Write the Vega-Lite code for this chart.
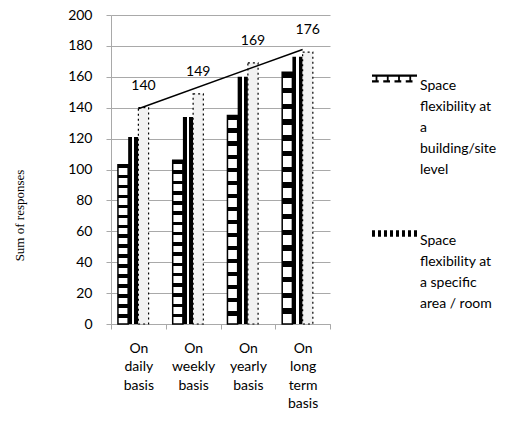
{
  "$schema": "https://vega.github.io/schema/vega-lite/v6.json",
  "width": 219,
  "height": 309,
  "autosize": {"type": "none"},
  "padding": {"left": 111, "top": 15, "right": 198, "bottom": 103},
  "background": "white",
  "config": {
    "view": {"stroke": null},
    "font": "Lato",
    "style": {"guide-label": {"lineHeight": 21}},
    "axis": {"labelFont": "Lato", "labelFontSize": 14, "labelColor": "#000", "domainColor": "darkgray", "tickColor": "darkgray"}
  },
  "datasets": {
    "bars": [
      {"category": "On daily basis", "series": "Space flexibility at a building/site level", "value": 103},
      {"category": "On daily basis", "series": "Space flexibility at a specific area / room", "value": 121},
      {"category": "On daily basis", "series": "Overall space flexibility", "value": 140},
      {"category": "On weekly basis", "series": "Space flexibility at a building/site level", "value": 106},
      {"category": "On weekly basis", "series": "Space flexibility at a specific area / room", "value": 134},
      {"category": "On weekly basis", "series": "Overall space flexibility", "value": 149},
      {"category": "On yearly basis", "series": "Space flexibility at a building/site level", "value": 135},
      {"category": "On yearly basis", "series": "Space flexibility at a specific area / room", "value": 160},
      {"category": "On yearly basis", "series": "Overall space flexibility", "value": 169},
      {"category": "On long term basis", "series": "Space flexibility at a building/site level", "value": 163},
      {"category": "On long term basis", "series": "Space flexibility at a specific area / room", "value": 173},
      {"category": "On long term basis", "series": "Overall space flexibility", "value": 176}
    ],
    "trend": [
      {"category": "On daily basis", "value": 139.3},
      {"category": "On long term basis", "value": 177.7}
    ]
  },
  "data": {"name": "bars"},
  "encoding": {
    "x": {"field": "category", "type": "nominal", "sort": ["On daily basis", "On weekly basis", "On yearly basis", "On long term basis"],
      "scale": {"paddingInner": 0, "paddingOuter": 0},
      "axis": {"title": null, "labelAngle": 0, "labelExpr": "split(datum.label, ' ')", "labelLineHeight": 18.5, "labelBaseline": "top", "labelPadding": 12, "tickBand": "extent", "tickSize": 5, "grid": false}},
    "y": {"field": "value", "type": "quantitative", "scale": {"domain": [0, 200], "nice": false},
      "axis": {"title": "Sum of responses", "titleFont": "Liberation Serif", "titleFontSize": 13, "titleFontWeight": "normal", "titleColor": "#000", "titleX": -92, "titleY": 200, "titleAlign": "center", "titleBaseline": "middle", "titleAngle": 270,
        "tickCount": 10, "labelOverlap": false, "labelSeparation": 0, "tickSize": 5, "labelPadding": 14, "grid": true, "gridColor": "darkgray", "gridOpacity": 1, "gridWidth": 1.2, "labelColor": "#000"}}
  },
  "layer": [
    {
      "transform": [{"filter": "datum.series == 'Space flexibility at a building/site level'"}],
      "mark": {"type": "bar", "stroke": "#000", "strokeWidth": 1.5,
        "fill": {"gradient": "linear", "x1": 0, "y1": 0, "x2": 0, "y2": 1, "stops": [
          {"offset": 0, "color": "#000"}, {"offset": 0.0219, "color": "#000"}, {"offset": 0.0219, "color": "#fff"}, {"offset": 0.0625, "color": "#fff"},
          {"offset": 0.0625, "color": "#000"}, {"offset": 0.0844, "color": "#000"}, {"offset": 0.0844, "color": "#fff"}, {"offset": 0.125, "color": "#fff"},
          {"offset": 0.125, "color": "#000"}, {"offset": 0.1469, "color": "#000"}, {"offset": 0.1469, "color": "#fff"}, {"offset": 0.1875, "color": "#fff"},
          {"offset": 0.1875, "color": "#000"}, {"offset": 0.2094, "color": "#000"}, {"offset": 0.2094, "color": "#fff"}, {"offset": 0.25, "color": "#fff"},
          {"offset": 0.25, "color": "#000"}, {"offset": 0.2719, "color": "#000"}, {"offset": 0.2719, "color": "#fff"}, {"offset": 0.3125, "color": "#fff"},
          {"offset": 0.3125, "color": "#000"}, {"offset": 0.3344, "color": "#000"}, {"offset": 0.3344, "color": "#fff"}, {"offset": 0.375, "color": "#fff"},
          {"offset": 0.375, "color": "#000"}, {"offset": 0.3969, "color": "#000"}, {"offset": 0.3969, "color": "#fff"}, {"offset": 0.4375, "color": "#fff"},
          {"offset": 0.4375, "color": "#000"}, {"offset": 0.4594, "color": "#000"}, {"offset": 0.4594, "color": "#fff"}, {"offset": 0.5, "color": "#fff"},
          {"offset": 0.5, "color": "#000"}, {"offset": 0.5219, "color": "#000"}, {"offset": 0.5219, "color": "#fff"}, {"offset": 0.5625, "color": "#fff"},
          {"offset": 0.5625, "color": "#000"}, {"offset": 0.5844, "color": "#000"}, {"offset": 0.5844, "color": "#fff"}, {"offset": 0.625, "color": "#fff"},
          {"offset": 0.625, "color": "#000"}, {"offset": 0.6469, "color": "#000"}, {"offset": 0.6469, "color": "#fff"}, {"offset": 0.6875, "color": "#fff"},
          {"offset": 0.6875, "color": "#000"}, {"offset": 0.7094, "color": "#000"}, {"offset": 0.7094, "color": "#fff"}, {"offset": 0.75, "color": "#fff"},
          {"offset": 0.75, "color": "#000"}, {"offset": 0.7719, "color": "#000"}, {"offset": 0.7719, "color": "#fff"}, {"offset": 0.8125, "color": "#fff"},
          {"offset": 0.8125, "color": "#000"}, {"offset": 0.8344, "color": "#000"}, {"offset": 0.8344, "color": "#fff"}, {"offset": 0.875, "color": "#fff"},
          {"offset": 0.875, "color": "#000"}, {"offset": 0.8969, "color": "#000"}, {"offset": 0.8969, "color": "#fff"}, {"offset": 0.9375, "color": "#fff"},
          {"offset": 0.9375, "color": "#000"}, {"offset": 0.9594, "color": "#000"}, {"offset": 0.9594, "color": "#fff"}, {"offset": 1, "color": "#fff"}
        ]}},
      "encoding": {
        "xOffset": {"field": "series", "type": "nominal", "scale": {"domain": ["Space flexibility at a building/site level", "Space flexibility at a specific area / room", "Overall space flexibility", "(blank)"], "paddingOuter": 0.68, "paddingInner": 0}}
      }
    },
    {
      "transform": [{"filter": "datum.series == 'Space flexibility at a specific area / room'"}],
      "mark": {"type": "bar", "stroke": null,
        "fill": {"gradient": "linear", "x1": 0, "y1": 0, "x2": 1, "y2": 0, "stops": [
          {"offset": 0, "color": "#000"}, {"offset": 0.38, "color": "#000"}, {"offset": 0.38, "color": "#fff"},
          {"offset": 0.62, "color": "#fff"}, {"offset": 0.62, "color": "#000"}, {"offset": 1, "color": "#000"}
        ]}},
      "encoding": {
        "xOffset": {"field": "series", "type": "nominal"}
      }
    },
    {
      "transform": [{"filter": "datum.series == 'Overall space flexibility'"}],
      "mark": {"type": "bar", "fill": "#f2f2f2", "stroke": "#000", "strokeWidth": 1.2, "strokeDash": [2, 3]},
      "encoding": {
        "xOffset": {"field": "series", "type": "nominal"}
      }
    },
    {
      "transform": [{"filter": "datum.series != 'Overall space flexibility'"}],
      "mark": {"type": "point", "filled": true, "opacity": 0},
      "encoding": {
        "xOffset": {"field": "series", "type": "nominal"},
        "color": {"field": "series", "type": "nominal",
          "scale": {"domain": ["Space flexibility at a building/site level", "Space flexibility at a specific area / room"], "range": ["#000000", "#000000"]},
          "legend": {
            "orient": "none", "legendX": 261, "legendY": 41, "title": null, "padding": 0,
            "symbolSize": 2025, "symbolStrokeWidth": 0, "symbolOpacity": 1,
            "labelFont": "Lato", "labelFontSize": 14, "labelColor": "#000", "labelLimit": 300, "labelOffset": 3, "labelBaseline": "top", "rowPadding": 34,
            "labelExpr": "datum.label == 'Space flexibility at a building/site level' ? ['Space', 'flexibility at', 'a', 'building/site', 'level'] : ['Space', 'flexibility at', 'a specific', 'area / room']"
          }},
        "shape": {"field": "series", "type": "nominal",
          "scale": {"domain": ["Space flexibility at a building/site level", "Space flexibility at a specific area / room"],
            "range": ["M-1,-0.18H1V-0.08H-1Z M-0.84,-0.08h0.08v0.16h-0.08Z M-0.34,-0.08h0.08v0.16h-0.08Z M0.16,-0.08h0.08v0.16h-0.08Z M0.66,-0.08h0.08v0.16h-0.08Z M-1,0.08h0.3v0.1h-0.3Z M-0.5,0.08h0.3v0.1h-0.3Z M0,0.08h0.3v0.1h-0.3Z M0.5,0.08h0.3v0.1h-0.3Z", "M-1,-0.14h0.133v0.28h-0.133Z M-0.733,-0.14h0.133v0.28h-0.133Z M-0.467,-0.14h0.133v0.28h-0.133Z M-0.2,-0.14h0.133v0.28h-0.133Z M0.067,-0.14h0.133v0.28h-0.133Z M0.333,-0.14h0.133v0.28h-0.133Z M0.6,-0.14h0.133v0.28h-0.133Z M0.867,-0.14h0.133v0.28h-0.133Z"]},
          "legend": {
            "orient": "none", "legendX": 261, "legendY": 41, "title": null, "padding": 0,
            "symbolSize": 2025, "symbolStrokeWidth": 0, "symbolOpacity": 1,
            "labelFont": "Lato", "labelFontSize": 14, "labelColor": "#000", "labelLimit": 300, "labelOffset": 3, "labelBaseline": "top", "rowPadding": 34,
            "labelExpr": "datum.label == 'Space flexibility at a building/site level' ? ['Space', 'flexibility at', 'a', 'building/site', 'level'] : ['Space', 'flexibility at', 'a specific', 'area / room']"
          }}
      }
    },
    {
      "transform": [{"filter": "datum.series == 'Overall space flexibility'"}],
      "mark": {"type": "text", "font": "Lato", "fontSize": 14, "color": "#000", "baseline": "middle", "align": "center", "dy": -22},
      "encoding": {
        "xOffset": {"field": "series", "type": "nominal"},
        "text": {"field": "value", "type": "quantitative"}
      }
    },
    {
      "data": {"name": "trend"},
      "mark": {"type": "line", "color": "#000", "strokeWidth": 1.5},
      "encoding": {}
    }
  ]
}
